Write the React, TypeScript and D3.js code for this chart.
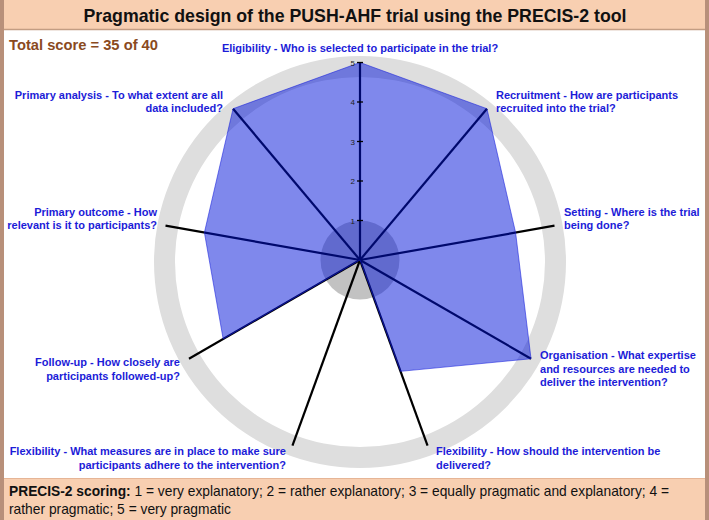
import React from "react";
import * as d3 from "d3";

const title = "Pragmatic design of the PUSH-AHF trial using the PRECIS-2 tool";
const totalText = "Total score = 35 of 40";
const legendBold = "PRECIS-2 scoring:";
const legendLine1 = " 1 = very explanatory; 2 = rather explanatory; 3 = equally pragmatic and explanatory; 4 =";
const legendLine2 = "rather pragmatic; 5 = very pragmatic";

const domainLabels: string[][] = [
  ["Eligibility - Who is selected to participate in the trial?"],
  ["Recruitment - How are participants", "recruited into the trial?"],
  ["Setting - Where is the trial", "being done?"],
  ["Organisation - What expertise", "and resources are needed to", "deliver the intervention?"],
  ["Flexibility - How should the intervention be", "delivered?"],
  ["Flexibility - What measures are in place to make sure", "participants adhere to the intervention?"],
  ["Follow-up - How closely are", "participants followed-up?"],
  ["Primary outcome - How", "relevant is it to participants?"],
  ["Primary analysis - To what extent are all", "data included?"],
];
const scores = [5, 5, 4, 5, 3, 0, 4, 4, 5];
const tickValues = [1, 2, 3, 4, 5];
const maxScore = 5;

// label placement relative to the end of each axis (styling)
const labelLayout = [
  { anchor: "middle", dx: 0, dy: -10.5 },
  { anchor: "start", dx: 9, dy: -10 },
  { anchor: "start", dx: 9.5, dy: -10 },
  { anchor: "start", dx: 9, dy: 0.3 },
  { anchor: "start", dx: 8.5, dy: 9.5 },
  { anchor: "end", dx: -6.5, dy: 9.5 },
  { anchor: "end", dx: -9, dy: 7.3 },
  { anchor: "end", dx: -8.5, dy: -10 },
  { anchor: "end", dx: -10, dy: -10 },
];

export default function App() {
  const W = 709, H = 520;
  const cx = 360, cy = 260;
  const r = d3.scaleLinear().domain([0, maxScore]).range([0, 197.5]);
  const step = (2 * Math.PI) / scores.length;
  const angles = scores.map((_, i) => i * step);

  const radar = d3
    .lineRadial<number>()
    .angle((_, i) => angles[i])
    .radius((d) => r(d))
    .curve(d3.curveLinearClosed);

  const labelFont = "'Liberation Sans', Arial, sans-serif";
  const blue = "#1c1cd8";

  return (
    <svg
      width={W}
      height={H}
      style={{ position: "absolute", left: 0, top: 0, background: "#fff" }}
      fontFamily={labelFont}
    >
      <rect x={0} y={0} width={W} height={H} fill="#fff" />
      {/* header */}
      <rect x={0} y={0} width={W} height={29} fill="#f8cfb1" />
      <line x1={0} x2={W} y1={29.5} y2={29.5} stroke="#c39d83" strokeWidth={1.5} />
      <text
        x={355}
        y={22}
        textAnchor="middle"
        fontSize={19}
        fontWeight="bold"
        fill="#111"
        textLength={543}
        lengthAdjust="spacingAndGlyphs"
      >
        {title}
      </text>
      {/* total score */}
      <text
        x={9}
        y={49.5}
        fontSize={15}
        fontWeight="bold"
        fill="#8a4a1e"
        textLength={149}
        lengthAdjust="spacingAndGlyphs"
      >
        {totalText}
      </text>

      <g transform={`translate(${cx},${cy})`}>
        {/* outer ring */}
        <path
          d={d3.arc()({ innerRadius: 185, outerRadius: 206, startAngle: 0, endAngle: 2 * Math.PI }) || ""}
          transform="translate(0,2)"
          fill="#dedede"
        />
        {/* inner circle */}
        <circle r={r(1)} fill="#c2c2c2" />
        {/* axes */}
        {angles.map((a, i) => {
          const [x, y] = d3.pointRadial(a, r(maxScore));
          return <line key={i} x1={0} y1={0} x2={x} y2={y} stroke="#000" strokeWidth={2.2} />;
        })}
        {/* polygon */}
        <path
          d={radar(scores) || ""}
          fill="rgba(0,17,217,0.5)"
          stroke="rgba(20,30,220,0.55)"
          strokeWidth={1}
          strokeLinejoin="round"
        />
        {/* ticks on first axis */}
        {tickValues.map((t) => (
          <g key={t} transform={`translate(0,${-r(t)})`}>
            <line x1={-3} x2={3} y1={0} y2={0} stroke="#000" strokeWidth={1.3} />
            <text x={-5} y={3} textAnchor="end" fontSize={8} fill="#222">
              {t}
            </text>
          </g>
        ))}
        {/* labels */}
        {domainLabels.map((lines, i) => {
          const [x, y] = d3.pointRadial(angles[i], r(maxScore));
          const lay = labelLayout[i];
          return (
            <text
              key={i}
              x={x + lay.dx}
              y={y + lay.dy}
              textAnchor={lay.anchor as any}
              fontSize={11}
              fontWeight="bold"
              fill={blue}
            >
              {lines.map((ln, j) => (
                <tspan key={j} x={x + lay.dx} dy={j === 0 ? 0 : 13.5}>
                  {ln}
                </tspan>
              ))}
            </text>
          );
        })}
      </g>

      {/* bottom legend */}
      <rect x={0} y={478} width={W} height={H - 478} fill="#f8cfb1" />
      <line x1={0} x2={W} y1={478.5} y2={478.5} stroke="#e6b596" strokeWidth={1} />
      <text x={9} y={496} fontSize={14.5} fill="#111" textLength={660} lengthAdjust="spacingAndGlyphs">
        <tspan fontWeight="bold">{legendBold}</tspan>
        <tspan>{legendLine1}</tspan>
      </text>
      <text x={9} y={514} fontSize={14.5} fill="#111" textLength={222} lengthAdjust="spacingAndGlyphs">
        {legendLine2}
      </text>

      {/* side borders */}
      <rect x={0} y={0} width={4} height={H} fill="#b8907a" />
      <rect x={W - 4} y={0} width={4} height={H} fill="#b8907a" />
    </svg>
  );
}
